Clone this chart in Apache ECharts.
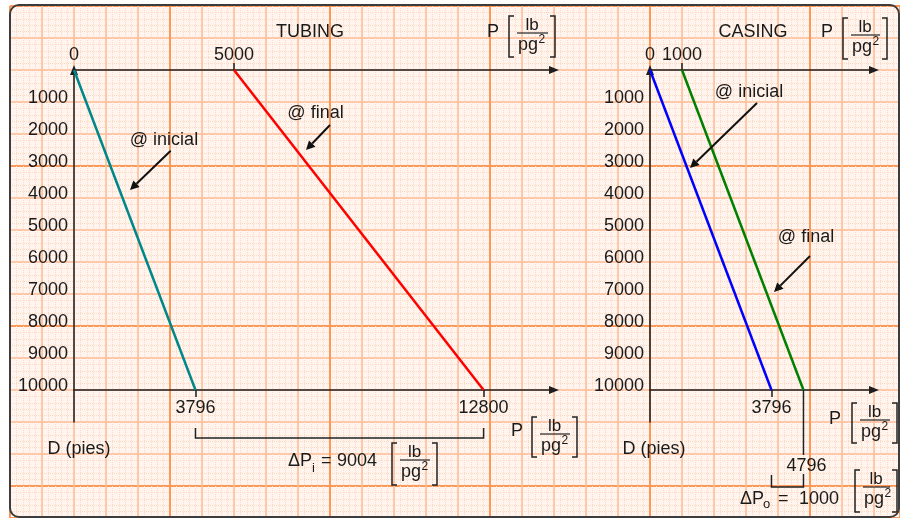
<!DOCTYPE html>
<html><head><meta charset="utf-8">
<script src="https://cdn.jsdelivr.net/npm/echarts@6/dist/echarts.min.js"></script>
<style>html,body{margin:0;padding:0;background:#fff}#c{width:900px;height:518px}</style>
</head><body><div id="c"></div>
<script>
// ---- data ----
const depthEnds = [0, 10000];
const tubingInicialP = [0, 3796];
const tubingFinalP = [5000, 12800];
const casingInicialP = [0, 3796];
const casingFinalP = [1000, 4796];
const depthTickLabels = [1000, 2000, 3000, 4000, 5000, 6000, 7000, 8000, 9000, 10000];
const tubingTopLabels = [0, 5000];
const tubingTopTicks = [5000];
const tubingBottomLabels = [3796, 12800];
const casingTopLabels = [0, 1000];
const casingTopTicks = [1000];
const casingBottomLabels = [3796];
const casingOffsetLabel = 4796;
const deltaPi = 9004;
const deltaPo = 1000;

const FONT = '"Liberation Sans", Arial, sans-serif';
const INK = '#1a1a1a';
const chart = echarts.init(document.getElementById('c'), null, {renderer: 'canvas'});

function pairs(ps) { return ps.map((p, i) => [p, depthEnds[i]]); }

const bgGrids = [
  {interval: 6.4, color: '#ffd8c2', width: 1, type: 'dotted'},
  {interval: 32, color: '#ffbb94', width: 1.5, type: 'solid'},
  {interval: 160, color: '#ff9856', width: 2, type: 'solid'}
];
const grids = [], xAxes = [], yAxes = [];
bgGrids.forEach((g, i) => {
  grids.push({left: 10, top: 6, width: 890, height: 512, outerBoundsMode: 'none', containLabel: false});
  const common = {gridIndex: i, type: 'value', min: 0, interval: g.interval, silent: true,
    axisLine: {show: false}, axisTick: {show: false}, axisLabel: {show: false},
    splitLine: {show: true, lineStyle: {color: g.color, width: g.width, type: g.type}}};
  xAxes.push(Object.assign({}, common, {max: 890}));
  yAxes.push(Object.assign({}, common, {max: 512, inverse: true}));
});
grids.push({left: 74, top: 70, width: 480, height: 352, outerBoundsMode: 'none', containLabel: false});
grids.push({left: 650, top: 70, width: 224, height: 352, outerBoundsMode: 'none', containLabel: false});

const lineSt = {color: '#1e1e1e', width: 1.5};
const lbl = {fontSize: 18, color: INK, fontFamily: FONT, formatter: v => String(v)};
function xAx(grid, pos, max, labels, ticks, margin, offset) {
  return {gridIndex: grid, type: 'value', position: pos, offset: offset || 0, min: 0, max: max,
    axisLine: {show: true, onZero: false, symbol: ['none', 'triangle'], symbolSize: [8, 10], lineStyle: lineSt},
    axisTick: {show: true, customValues: ticks, length: 7, lineStyle: lineSt},
    axisLabel: Object.assign({customValues: labels, margin: margin}, lbl),
    splitLine: {show: false}};
}
function yAx(grid) {
  return {gridIndex: grid, type: 'value', inverse: true, min: 0, max: 11000, interval: 1000,
    axisLine: {show: true, onZero: false, symbol: ['none', 'triangle'], symbolSize: [8, 10], lineStyle: lineSt},
    axisTick: {show: false},
    axisLabel: Object.assign({customValues: depthTickLabels, margin: 6, verticalAlign: 'bottom', lineHeight: 7}, lbl),
    splitLine: {show: false}};
}
xAxes.push(xAx(3, 'top', 15000, tubingTopLabels, tubingTopTicks, 6));          // 3
xAxes.push(xAx(3, 'bottom', 15000, tubingBottomLabels, tubingBottomLabels, 9, -32)); // 4
xAxes.push(xAx(4, 'top', 7000, casingTopLabels, casingTopTicks, 6));           // 5
xAxes.push(xAx(4, 'bottom', 7000, casingBottomLabels, casingBottomLabels, 9, -32));  // 6
yAxes.push(yAx(3)); // 3
yAxes.push(yAx(4)); // 4

function ser(name, xi, yi, ps, color) {
  return {name: name, type: 'line', xAxisIndex: xi, yAxisIndex: yi, data: pairs(ps), symbol: 'none',
    lineStyle: {color: color, width: 2.5}, silent: true, z: 5};
}

chart.setOption({
  animation: false,
  backgroundColor: '#ffffff',
  grid: grids, xAxis: xAxes, yAxis: yAxes,
  series: [
    ser('Tubing @ inicial', 3, 3, tubingInicialP, '#00878a'),
    ser('Tubing @ final', 3, 3, tubingFinalP, '#ff0000'),
    ser('Casing @ inicial', 5, 4, casingInicialP, '#0000ff'),
    ser('Casing @ final', 5, 4, casingFinalP, '#008000')
  ]
});

const pT = (p, d) => chart.convertToPixel({xAxisIndex: 3, yAxisIndex: 3}, [p, d]);
const pC = (p, d) => chart.convertToPixel({xAxisIndex: 5, yAxisIndex: 4}, [p, d]);

function txt(x, y, s, size, align) {
  return {type: 'text', x: x, y: y, z: 50, silent: true,
    style: {text: s, fontSize: size || 18, fontFamily: FONT, fill: INK, align: align || 'center', verticalAlign: 'middle'}};
}
function poly(points, w) {
  return {type: 'polyline', z: 50, silent: true, shape: {points: points}, style: {stroke: '#222', lineWidth: w || 1.5, fill: 'none'}};
}
function arrow(a, b) {
  const dx = b[0] - a[0], dy = b[1] - a[1], L = Math.hypot(dx, dy), ux = dx / L, uy = dy / L;
  const hl = 9, hw = 4.5, bx = b[0] - ux * hl, by = b[1] - uy * hl;
  return [
    {type: 'line', z: 50, silent: true, shape: {x1: a[0], y1: a[1], x2: bx, y2: by}, style: {stroke: '#111', lineWidth: 2}},
    {type: 'polygon', z: 50, silent: true, shape: {points: [[b[0], b[1]], [bx - uy * hw, by + ux * hw], [bx + uy * hw, by - ux * hw]]}, style: {fill: '#111'}}
  ];
}
function unit(x0, y0, w, h) {
  w = w || 45; h = h || 41;
  return [
    poly([[x0 + 5, y0], [x0, y0], [x0, y0 + h], [x0 + 5, y0 + h]]),
    poly([[x0 + w - 5, y0], [x0 + w, y0], [x0 + w, y0 + h], [x0 + w - 5, y0 + h]]),
    txt(x0 + w / 2, y0 + 9, 'lb', 17),
    {type: 'line', z: 50, silent: true, shape: {x1: x0 + 8, y1: y0 + 17, x2: x0 + w - 7, y2: y0 + 17}, style: {stroke: '#222', lineWidth: 1.2}},
    txt(x0 + 19, y0 + 29, 'pg', 18),
    txt(x0 + 29.5, y0 + 24, '2', 12, 'left')
  ];
}

const g = [];
g.push({type: 'rect', z: -10, silent: true, shape: {x: 10, y: 5, width: 889, height: 512, r: 9}, style: {fill: '#fff5ee'}});
g.push({type: 'rect', z: 100, silent: true, shape: {x: 10, y: 5, width: 889, height: 512, r: 9}, style: {fill: 'none', stroke: '#3c3c3c', lineWidth: 2}});

// Titles and units (top)
g.push(txt(310, 32, 'TUBING'));
g.push(txt(493, 32, 'P'));
g.push(...unit(509, 16, 46, 41));
g.push(txt(753, 32, 'CASING'));
g.push(txt(827, 32, 'P'));
g.push(...unit(843, 18, 44, 41));

// annotations tubing
let a;
a = pT(2812, 2187); g.push(txt(a[0], a[1], '@ inicial'));
g.push(...arrow(pT(3022, 2522), pT(1750, 3750)));
a = pT(7547, 1344); g.push(txt(a[0], a[1], '@ final'));
g.push(...arrow(pT(8000, 1719), pT(7250, 2500)));
// annotations casing
a = pC(3094, 687); g.push(txt(a[0], a[1], '@ inicial'));
g.push(...arrow(pC(3344, 1031), pC(1250, 3062)));
a = pC(4875, 5219); g.push(txt(a[0], a[1], '@ final'));
g.push(...arrow(pC(5000, 5812), pC(3875, 6937)));

// bottom tubing
const t1 = pT(tubingInicialP[1], depthEnds[1]), t2 = pT(tubingFinalP[1], depthEnds[1]);
g.push(poly([[t1[0], t1[1] + 38], [t1[0], t1[1] + 48], [t2[0], t2[1] + 48], [t2[0], t2[1] + 38]]));
g.push(txt(288, 461, 'ΔP', 18, 'left'));
g.push(txt(312, 468, 'i', 13, 'left'));
g.push(txt(321, 461, '=', 18, 'left'));
g.push(txt(337, 461, String(deltaPi), 18, 'left'));
g.push(...unit(392, 443, 45, 42));
g.push(txt(517, 431, 'P'));
g.push(...unit(532, 417, 45, 40));
g.push(txt(79, 449, 'D (pies)'));

// bottom casing
const c1 = pC(casingInicialP[1], depthEnds[1]), c2 = pC(casingFinalP[1], depthEnds[1]);
g.push({type: 'line', z: 50, silent: true, shape: {x1: c2[0], y1: c2[1], x2: c2[0], y2: c2[1] + 65}, style: {stroke: '#222', lineWidth: 1.5}});
g.push(txt(c2[0] + 3, c2[1] + 76, String(casingOffsetLabel)));
g.push(poly([[c1[0], c1[1] + 85], [c1[0], c1[1] + 97], [c2[0], c2[1] + 97], [c2[0], c2[1] + 84]]));
g.push(txt(740, 499, 'ΔP', 18, 'left'));
g.push(txt(763, 504, 'o', 13, 'left'));
g.push(txt(778, 499, '=', 18, 'left'));
g.push(txt(799, 499, String(deltaPo), 18, 'left'));
g.push(...unit(855, 470, 42, 42));
g.push(txt(835, 419, 'P'));
g.push(...unit(852, 403, 45, 40));
g.push(txt(654, 449, 'D (pies)'));

chart.setOption({graphic: {elements: g}});
</script></body></html>
